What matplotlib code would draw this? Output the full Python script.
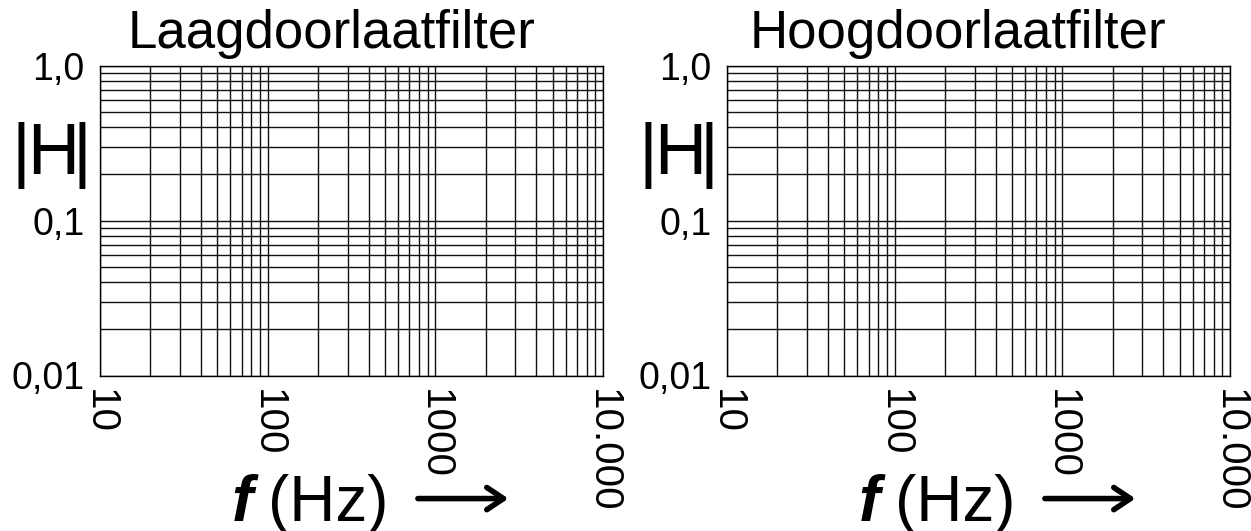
import matplotlib
matplotlib.use("Agg")
import matplotlib.pyplot as plt
from matplotlib.ticker import FixedLocator, LogLocator, NullFormatter

plt.rcParams['font.family'] = ['Liberation Sans', 'DejaVu Sans']

titles = ["Laagdoorlaatfilter", "Hoogdoorlaatfilter"]
x_ticks = [10, 100, 1000, 10000]
x_labels = ["10", "100", "1000", "10.000"]
y_ticks = [0.01, 0.1, 1.0]
y_labels = ["0,01", "0,1", "1,0"]

W, H = 1251, 531
fig = plt.figure(figsize=(W / 100, H / 100), dpi=100)
fig.patch.set_facecolor('white')

panel_left = [100, 727]
ax_w, ax_h = 503, 310
ax_top = 65.5

for left, title in zip(panel_left, titles):
    ax = fig.add_axes([left / W, (H - ax_top - ax_h) / H, ax_w / W, ax_h / H])
    ax.set_xscale('log')
    ax.set_yscale('log')
    ax.set_xlim(x_ticks[0], x_ticks[-1])
    ax.set_ylim(y_ticks[0], y_ticks[-1])

    ax.xaxis.set_major_locator(FixedLocator(x_ticks))
    ax.yaxis.set_major_locator(FixedLocator(y_ticks))
    ax.xaxis.set_minor_locator(LogLocator(base=10, subs=range(2, 10)))
    ax.yaxis.set_minor_locator(LogLocator(base=10, subs=range(2, 10)))
    ax.xaxis.set_minor_formatter(NullFormatter())
    ax.yaxis.set_minor_formatter(NullFormatter())
    ax.set_xticklabels(x_labels, rotation=270, fontsize=29)
    ax.set_yticklabels(y_labels, fontsize=27)
    ax.tick_params(which='both', length=0)
    ax.tick_params(axis='x', pad=10)
    ax.tick_params(axis='y', pad=11)

    ax.grid(which='both', color='#111111', linewidth=1.0)
    for sp in ax.spines.values():
        sp.set_color('black')
        sp.set_linewidth(1.0)

    ax.text(0.46, 1.056, title, transform=ax.transAxes, ha='center',
            va='baseline', fontsize=38)

    # |H| built from separate glyphs so the bars sit close to the H
    for xf, s in [(-0.157, "|"), (-0.093, "H"), (-0.036, "|")]:
        ax.text(xf, 0.711, s, transform=ax.transAxes, ha='center',
                va='center', fontsize=52)

    # frequency label with arrow underneath the axis
    ax.text(0.262, -0.470, "f", transform=ax.transAxes, ha='left',
            va='baseline', fontsize=46, fontstyle='italic', fontweight='bold')
    ax.text(0.334, -0.470, "(Hz)", transform=ax.transAxes, ha='left',
            va='baseline', fontsize=46)
    ax.annotate("", xy=(0.812, -0.397), xytext=(0.632, -0.397),
                xycoords='axes fraction', textcoords='axes fraction',
                arrowprops=dict(arrowstyle='->,head_length=1.2,head_width=0.8',
                                lw=4, color='black', shrinkA=0, shrinkB=0),
                annotation_clip=False)

fig.savefig("out.png", dpi=100)
